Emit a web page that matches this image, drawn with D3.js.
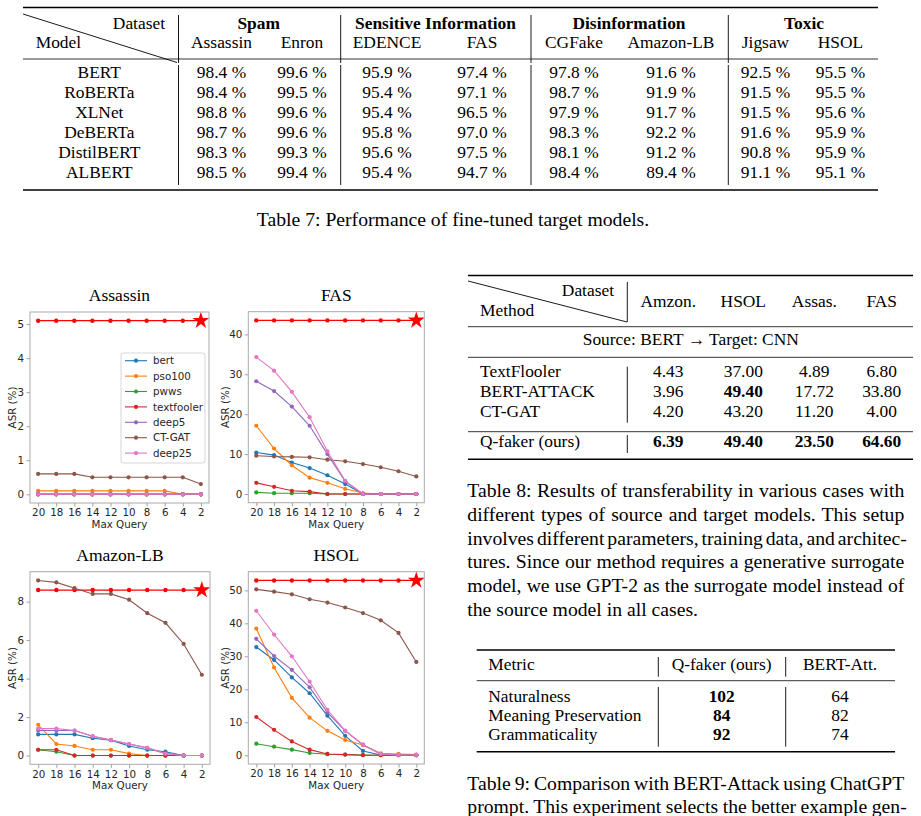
<!DOCTYPE html>
<html>
<head>
<meta charset="utf-8">
<script src="https://cdn.jsdelivr.net/npm/d3@7"></script>
<style>
  body { margin: 0; background: #fff; }
  svg { display: block; }
</style>
</head>
<body>
<div id="page"></div>
<script>
// ---- data: Table 7 ----
var t7Groups = ["Spam", "Sensitive Information", "Disinformation", "Toxic"];
var t7Datasets = ["Assassin", "Enron", "EDENCE", "FAS", "CGFake", "Amazon-LB", "Jigsaw", "HSOL"];
var t7Models = ["BERT", "RoBERTa", "XLNet", "DeBERTa", "DistilBERT", "ALBERT"];
var t7Values = [
  [98.4, 99.6, 95.9, 97.4, 97.8, 91.6, 92.5, 95.5],
  [98.4, 99.5, 95.4, 97.1, 98.7, 91.9, 91.5, 95.5],
  [98.8, 99.6, 95.4, 96.5, 97.9, 91.7, 91.5, 95.6],
  [98.7, 99.6, 95.8, 97.0, 98.3, 92.2, 91.6, 95.9],
  [98.3, 99.3, 95.6, 97.5, 98.1, 91.2, 90.8, 95.9],
  [98.5, 99.4, 95.4, 94.7, 98.4, 89.4, 91.1, 95.1]
];

// ---- data: Table 8 ----
var t8Datasets = ["Amzon.", "HSOL", "Assas.", "FAS"];
var t8Methods = ["TextFlooler", "BERT-ATTACK", "CT-GAT", "Q-faker (ours)"];
var t8Values = [
  ["4.43", "37.00", "4.89", "6.80"],
  ["3.96", "49.40", "17.72", "33.80"],
  ["4.20", "43.20", "11.20", "4.00"],
  ["6.39", "49.40", "23.50", "64.60"]
];
var t8Bold = [
  [0, 0, 0, 0],
  [0, 1, 0, 0],
  [0, 0, 0, 0],
  [1, 1, 1, 1]
];
var t8Caption = [
  "Table 8: Results of transferability in various cases with",
  "different types of source and target models. This setup",
  "involves different parameters, training data, and architec-",
  "tures. Since our method requires a generative surrogate",
  "model, we use GPT-2 as the surrogate model instead of",
  "the source model in all cases."
];

// ---- data: Table 9 ----
var t9Metrics = ["Naturalness", "Meaning Preservation", "Grammaticality"];
var t9Qfaker = [102, 84, 92];
var t9BertAtt = [64, 82, 74];
var t9Caption = [
  "Table 9: Comparison with BERT-Attack using ChatGPT",
  "prompt. This experiment selects the better example gen-"
];

// ---- data: ASR vs max query ----
var maxQuery = [20, 18, 16, 14, 12, 10, 8, 6, 4, 2];
var attackNames = ["bert", "pso100", "pwws", "textfooler", "deep5", "CT-GAT", "deep25"];
var attackColors = ["#1f77b4", "#ff7f0e", "#2ca02c", "#d62728", "#9467bd", "#8c564b", "#e377c2"];
var oursASR = [5.1, 43.5, 8.6, 53.0]; // Assassin, FAS, Amazon-LB, HSOL

var assassinASR = [
  [0, 0, 0, 0, 0, 0, 0, 0, 0, 0],
  [0.1, 0.1, 0.1, 0.1, 0.1, 0.1, 0.1, 0.1, 0, 0],
  [0, 0, 0, 0, 0, 0, 0, 0, 0, 0],
  [0, 0, 0, 0, 0, 0, 0, 0, 0, 0],
  [0, 0, 0, 0, 0, 0, 0, 0, 0, 0],
  [0.6, 0.6, 0.6, 0.5, 0.5, 0.5, 0.5, 0.5, 0.5, 0.3],
  [0, 0, 0, 0, 0, 0, 0, 0, 0, 0]
];
var fasASR = [
  [10.4, 9.75, 7.9, 6.5, 4.7, 2.5, 0, 0, 0, 0],
  [17.1, 11.4, 7.2, 4.1, 2.8, 1.3, 0.25, 0, 0, 0],
  [0.4, 0.2, 0.2, 0.2, 0, 0, 0, 0, 0, 0],
  [2.8, 1.8, 0.8, 0.6, 0, 0, 0, 0, 0, 0],
  [28.25, 25.8, 21.9, 17.1, 10.0, 3.2, 0, 0, 0, 0],
  [9.6, 9.4, 9.3, 9.2, 8.6, 8.2, 7.5, 6.7, 5.7, 4.4],
  [34.3, 30.9, 25.6, 19.25, 10.7, 3.3, 0, 0, 0, 0]
];
var amazonASR = [
  [1.1, 1.1, 1.1, 0.9, 0.8, 0.5, 0.3, 0.2, 0, 0],
  [1.6, 0.6, 0.5, 0.3, 0.3, 0.1, 0, 0, 0, 0],
  [0.3, 0.2, 0, 0, 0, 0, 0, 0, 0, 0],
  [0.3, 0.3, 0, 0, 0, 0, 0, 0, 0, 0],
  [1.3, 1.3, 1.3, 1.0, 0.8, 0.6, 0.4, 0.1, 0, 0],
  [9.1, 9.0, 8.7, 8.4, 8.4, 8.1, 7.4, 6.9, 5.8, 4.2],
  [1.4, 1.4, 1.3, 1.0, 0.8, 0.6, 0.4, 0.1, 0, 0]
];
var hsolASR = [
  [32.8, 28.9, 23.6, 18.8, 12.0, 5.9, 1.3, 0.1, 0, 0],
  [38.4, 26.6, 17.4, 11.4, 7.4, 4.6, 3.1, 0.6, 0.4, 0.2],
  [3.5, 2.6, 1.7, 0.7, 0.3, 0.2, 0.1, 0, 0, 0],
  [11.6, 7.7, 4.2, 1.7, 0.4, 0.2, 0, 0, 0, 0],
  [35.3, 30.1, 25.9, 20.6, 13.0, 7.4, 3.2, 0.3, 0.1, 0.1],
  [50.3, 49.6, 48.8, 47.3, 46.3, 44.8, 43.1, 40.9, 37.1, 28.3],
  [43.8, 36.6, 30.0, 22.3, 13.8, 7.5, 3.2, 0.4, 0.1, 0.1]
];

var serif = "'Liberation Serif', 'Times New Roman', serif";
var sans = "'DejaVu Sans', sans-serif";
var tabSize = 17.4, capSize = 19.7;

var svg = d3.select("#page").append("svg")
  .attr("width", 921)
  .attr("height", 816);

svg.append("rect").attr("width", 921).attr("height", 816).attr("fill", "#fff");

function rule(x1, x2, y, w) {
  svg.append("line")
    .attr("x1", x1).attr("x2", x2)
    .attr("y1", y).attr("y2", y)
    .attr("stroke", "#000").attr("stroke-width", w);
}
function vline(x, y1, y2) {
  svg.append("line")
    .attr("x1", x).attr("x2", x)
    .attr("y1", y1).attr("y2", y2)
    .attr("stroke", "#000").attr("stroke-width", 0.9);
}
function txt(x, y, s, anchor, size, bold) {
  return svg.append("text")
    .attr("x", x).attr("y", y)
    .attr("text-anchor", anchor || "start")
    .attr("font-family", serif)
    .attr("font-size", size || tabSize)
    .attr("font-weight", bold ? "bold" : "normal")
    .text(s);
}
// spread the spaces so a caption line fills the column
function justify(sel, width) {
  var n = (sel.text().match(/ /g) || []).length;
  var w = sel.node().getComputedTextLength();
  if (n) sel.style("word-spacing", ((width - w) / n) + "px");
}

/* ---------- Table 7 ---------- */
var t7Cols = [221.5, 302, 387, 482, 574, 671, 765.5, 840.5];
var t7GroupX = [258.7, 435.5, 629, 804];
var t7Seps = [178.5, 340.7, 531, 728.3];

rule(23, 878, 7.5, 1.4);
svg.append("line")
  .attr("x1", 23).attr("y1", 14).attr("x2", 177).attr("y2", 62.5)
  .attr("stroke", "#000").attr("stroke-width", 0.9);
txt(165, 29.3, "Dataset", "end");
txt(35.7, 48.3, "Model");
t7Groups.forEach(function (g, i) { txt(t7GroupX[i], 29.3, g, "middle", tabSize, true); });
t7Datasets.forEach(function (d, i) { txt(t7Cols[i], 48.3, d, "middle"); });
t7Seps.forEach(function (x) { vline(x, 15, 63); });
rule(23, 878, 59, 0.8);
t7Models.forEach(function (m, r) {
  var y = 78.3 + r * 20;
  txt(99.3, y, m, "middle");
  t7Values[r].forEach(function (v, c) { txt(t7Cols[c], y, v.toFixed(1) + " %", "middle"); });
});
t7Seps.forEach(function (x) { vline(x, 65, 185); });
rule(23, 878, 190, 1.4);
txt(453, 226, "Table 7: Performance of fine-tuned target models.", "middle", capSize);

/* ---------- Table 8 ---------- */
var t8Cols = [668.3, 743.3, 814.3, 881.7];
rule(468, 913, 275.5, 1.4);
svg.append("line")
  .attr("x1", 468).attr("y1", 281).attr("x2", 627).attr("y2", 322)
  .attr("stroke", "#000").attr("stroke-width", 0.9);
txt(614, 296, "Dataset", "end");
txt(480, 315.7, "Method");
vline(627.3, 282, 322);
t8Datasets.forEach(function (d, i) { txt(t8Cols[i], 306.7, d, "middle"); });
rule(468, 913, 326.7, 0.8);
txt(690.8, 345, "Source: BERT \u2192 Target: CNN", "middle");
rule(468, 913, 357.3, 0.8);
var t8RowY = [377.3, 397.1, 417, 446.7];
t8Methods.forEach(function (m, r) {
  txt(480, t8RowY[r], m);
  t8Values[r].forEach(function (v, c) { txt(t8Cols[c], t8RowY[r], v, "middle", tabSize, t8Bold[r][c]); });
});
vline(627.3, 366.7, 422.7);
rule(468, 913, 431.7, 0.8);
vline(627.3, 435, 453);
rule(468, 913, 459.3, 1.4);

t8Caption.forEach(function (line, i) {
  var t = txt(467.3, 497 + i * 23.8, line, "start", capSize);
  if (i < t8Caption.length - 1) justify(t, i == 2 ? 439.4 : 437);
});

/* ---------- Table 9 ---------- */
rule(476.7, 895, 650, 1.4);
txt(488.3, 670, "Metric");
txt(721.7, 670, "Q-faker (ours)", "middle");
txt(840, 670, "BERT-Att.", "middle");
vline(658.3, 657, 676.7);
vline(785.7, 657, 676.7);
rule(476.7, 895, 680.7, 0.8);
var t9RowY = [701.7, 720.9, 740];
t9Metrics.forEach(function (m, r) {
  txt(488.3, t9RowY[r], m);
  txt(721.7, t9RowY[r], t9Qfaker[r], "middle", tabSize, true);
  txt(840, t9RowY[r], t9BertAtt[r], "middle");
});
vline(658.3, 687, 746.7);
vline(785.7, 687, 746.7);
rule(476.7, 895, 751.7, 1.4);

t9Caption.forEach(function (line, i) {
  var t = txt(467.3, 789.5 + i * 23.8, line, "start", capSize);
  justify(t, i == 1 ? 439.4 : 437);
});

/* ---------- ASR line charts ---------- */
var charts = [
  { title: "Assassin", series: assassinASR, ours: oursASR[0], yTicks: [0, 1, 2, 3, 4, 5],
    box: [30, 312, 209, 503], labelX: 12, legend: true },
  { title: "FAS", series: fasASR, ours: oursASR[1], yTicks: [0, 10, 20, 30, 40],
    box: [248.3, 311.7, 424.3, 502.7], labelX: 225.5 },
  { title: "Amazon-LB", series: amazonASR, ours: oursASR[2], yTicks: [0, 2, 4, 6, 8],
    box: [30, 571.7, 210, 764.3], labelX: 12 },
  { title: "HSOL", series: hsolASR, ours: oursASR[3], yTicks: [0, 10, 20, 30, 40, 50],
    box: [248.3, 571.7, 424.3, 764], labelX: 225.5 }
];

var star = d3.symbol().type(d3.symbolStar).size(90);

charts.forEach(function (c) {
  var left = c.box[0], top = c.box[1], right = c.box[2], bottom = c.box[3];
  var ymax = Math.max(c.ours, d3.max(c.series, function (s) { return d3.max(s); }));
  var pad = ymax * 0.05;

  var x = d3.scaleLinear().domain([20.9, 1.1]).range([left, right]);
  var y = d3.scaleLinear().domain([-pad, ymax + pad]).range([bottom, top]);

  var g = svg.append("g");

  // x axis
  var xa = g.append("g")
    .attr("transform", "translate(0," + bottom + ")")
    .call(d3.axisBottom(x).tickValues(maxQuery).tickFormat(d3.format("d"))
      .tickSize(3.5).tickPadding(2.5));
  // y axis
  var ya = g.append("g")
    .attr("transform", "translate(" + left + ",0)")
    .call(d3.axisLeft(y).tickValues(c.yTicks).tickFormat(d3.format("d"))
      .tickSize(3.5).tickPadding(2.5));
  [xa, ya].forEach(function (a) {
    a.select(".domain").remove();
    a.attr("font-family", sans).attr("font-size", 10.3);
    a.selectAll("line").attr("stroke", "#888").attr("stroke-width", 0.8);
    a.selectAll("text").attr("fill", "#262626");
  });

  g.append("text")
    .attr("x", (left + right) / 2).attr("y", bottom + 25)
    .attr("text-anchor", "middle")
    .attr("font-family", sans).attr("font-size", 10.3).attr("fill", "#262626")
    .text("Max Query");

  g.append("text")
    .attr("transform", "translate(" + c.labelX + "," + ((top + bottom) / 2) + ") rotate(-90)")
    .attr("dy", "0.35em")
    .attr("text-anchor", "middle")
    .attr("font-family", sans).attr("font-size", 10.3).attr("fill", "#262626")
    .text("ASR (%)");

  g.append("text")
    .attr("x", (left + right) / 2).attr("y", top - 11)
    .attr("text-anchor", "middle")
    .attr("font-family", serif).attr("font-size", 17.5)
    .text(c.title);

  var line = d3.line()
    .x(function (d, i) { return x(maxQuery[i]); })
    .y(function (d) { return y(d); });

  // reference (ours) line with star at the end
  var oursVals = maxQuery.map(function () { return c.ours; });
  g.append("path")
    .attr("d", line(oursVals))
    .attr("fill", "none").attr("stroke", "#ff0000").attr("stroke-width", 1.3);
  g.selectAll(".ours-dot")
    .data(oursVals)
    .enter().append("circle")
    .attr("class", "ours-dot")
    .attr("cx", function (d, i) { return x(maxQuery[i]); })
    .attr("cy", function (d) { return y(d); })
    .attr("r", 2.2)
    .attr("fill", "#ff0000");
  g.append("path")
    .attr("d", star)
    .attr("transform", "translate(" + x(maxQuery[maxQuery.length - 1]) + "," + y(c.ours) + ")")
    .attr("fill", "#ff0000");

  c.series.forEach(function (s, k) {
    g.append("path")
      .attr("d", line(s))
      .attr("fill", "none").attr("stroke", attackColors[k]).attr("stroke-width", 1.1);
    g.selectAll(".dot" + k)
      .data(s)
      .enter().append("circle")
      .attr("class", "dot" + k)
      .attr("cx", function (d, i) { return x(maxQuery[i]); })
      .attr("cy", function (d) { return y(d); })
      .attr("r", 2.1)
      .attr("fill", attackColors[k]);
  });

  // frame
  g.append("rect")
    .attr("x", left).attr("y", top)
    .attr("width", right - left).attr("height", bottom - top)
    .attr("fill", "none").attr("stroke", "#aaa").attr("stroke-width", 1);

  if (c.legend) {
    var lg = g.append("g");
    lg.append("rect")
      .attr("x", 121).attr("y", 353).attr("width", 84).attr("height", 110)
      .attr("rx", 2.5)
      .attr("fill", "#fff").attr("fill-opacity", 0.8)
      .attr("stroke", "#ccc").attr("stroke-width", 0.8);
    attackNames.forEach(function (name, k) {
      var ly = 360.7 + k * 15.4;
      lg.append("line")
        .attr("x1", 125).attr("x2", 147).attr("y1", ly).attr("y2", ly)
        .attr("stroke", attackColors[k]).attr("stroke-width", 1.1);
      lg.append("circle").attr("cx", 136).attr("cy", ly).attr("r", 2.1).attr("fill", attackColors[k]);
      lg.append("text")
        .attr("x", 153).attr("y", ly).attr("dy", "0.35em")
        .attr("font-family", sans).attr("font-size", 10.3).attr("fill", "#262626")
        .text(name);
    });
  }
});
</script>
</body>
</html>
